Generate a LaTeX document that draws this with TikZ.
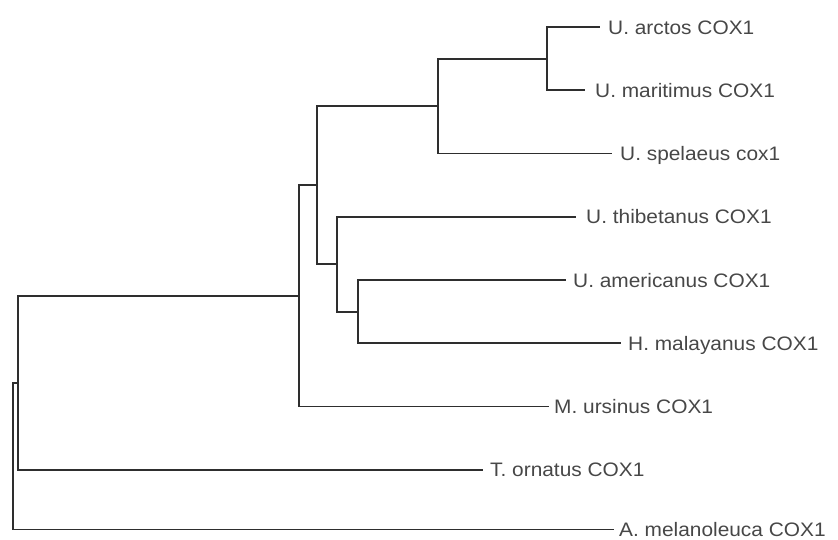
\documentclass[tikz,border=0pt]{standalone}
\usepackage{fontspec}
\setmainfont{Liberation Sans}[FakeStretch=1.07]
\usetikzlibrary{positioning}
\tikzset{
  branch/.style={line width=1.8pt, draw=black!82},
  leaf/.style={anchor=west, inner sep=0pt, text height=14pt, text depth=0pt,
    text=black!72, font=\fontsize{19.5}{22}\selectfont},
}
\begin{document}
\begin{tikzpicture}[x=1pt,y=-1pt]
\useasboundingbox (0,0) rectangle (838,539);
% leaf tips
\coordinate (t1) at (600,27);
\coordinate (t2) at (585,90.25);
\coordinate (t3) at (612,153.5);
\coordinate (t4) at (576,216.75);
\coordinate (t5) at (566,280);
\coordinate (t6) at (621,343.25);
\coordinate (t7) at (549,406.5);
\coordinate (t8) at (483,469.75);
\coordinate (t9) at (614,529.5);
% internal nodes
\coordinate (n1) at (547,58.6);
\coordinate (n2) at (438,106.05);
\coordinate (n3) at (358,311.6);
\coordinate (n4) at (337,264.2);
\coordinate (n5) at (317,185.1);
\coordinate (n6) at (299,295.8);
\coordinate (n7) at (18,382.8);
\coordinate (root) at (13,456.2);
% labels
\node[leaf, right=8pt of t1] (arctos) {U. arctos COX1};
\node[leaf, right=10pt of t2] (maritimus) {U. maritimus COX1};
\node[leaf, right=8pt of t3] (spelaeus) {U. spelaeus cox1};
\node[leaf, right=10pt of t4] (thibetanus) {U. thibetanus COX1};
\node[leaf, right=7pt of t5] (americanus) {U. americanus COX1};
\node[leaf, right=7pt of t6] (malayanus) {H. malayanus COX1};
\node[leaf, right=5pt of t7] (ursinus) {M. ursinus COX1};
\node[leaf, right=7pt of t8] (ornatus) {T. ornatus COX1};
\node[leaf, right=5pt of t9] (melanoleuca) {A. melanoleuca COX1};
% branches
\draw[branch] (n1) |- (t1);
\draw[branch] (n1) |- (t2);
\draw[branch] (n2) |- (n1);
\draw[branch] (n2) |- (t3);
\draw[branch] (n3) |- (t5);
\draw[branch] (n3) |- (t6);
\draw[branch] (n4) |- (t4);
\draw[branch] (n4) |- (n3);
\draw[branch] (n5) |- (n2);
\draw[branch] (n5) |- (n4);
\draw[branch] (n6) |- (n5);
\draw[branch] (n6) |- (t7);
\draw[branch] (n7) |- (n6);
\draw[branch] (n7) |- (t8);
\draw[branch] (root) |- (n7);
\draw[branch] (root) |- (t9);
\end{tikzpicture}
\end{document}
